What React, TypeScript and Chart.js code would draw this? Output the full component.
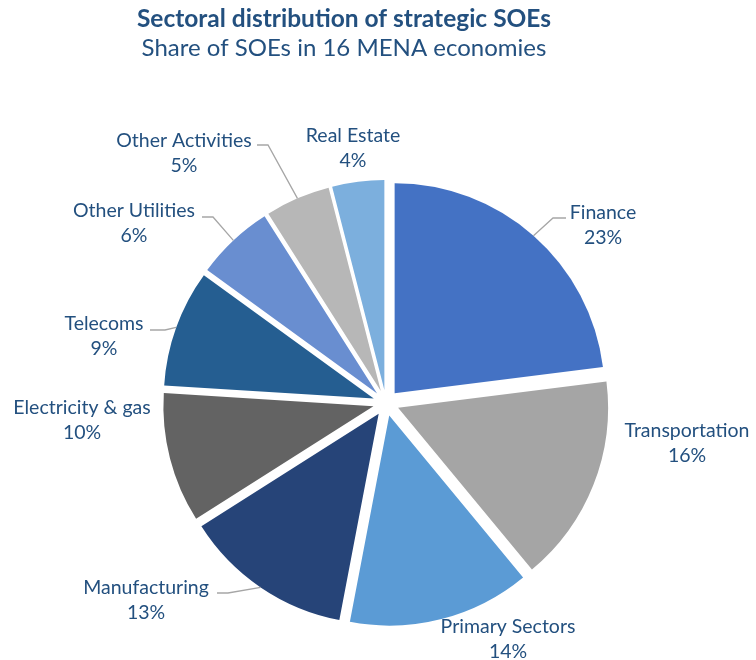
import React, { useEffect, useRef } from "react";
import { Chart, registerables } from "chart.js";

Chart.register(...registerables);

const categories = [
  "Finance",
  "Transportation",
  "Primary Sectors",
  "Manufacturing",
  "Electricity & gas",
  "Telecoms",
  "Other Utilities",
  "Other Activities",
  "Real Estate",
];
const shares = [23, 16, 14, 13, 10, 9, 6, 5, 4];
const sliceColors = [
  "#4472C4",
  "#A5A5A5",
  "#5B9BD5",
  "#264478",
  "#636363",
  "#255E91",
  "#698ED0",
  "#B7B7B7",
  "#7CAFDD",
];
const titleText = "Sectoral distribution of strategic SOEs";
const subtitleText = "Share of SOEs in 16 MENA economies";

const TEXT_COLOR = "#23507F";
const LEADER_COLOR = "#A6A6A6";
const FONT = "Lato, 'Open Sans', sans-serif";
const EXPLODE = 13;

// label text centres relative to the pie centre
const labelOffsets: [number, number][] = [
  [217, -178],
  [301, 40],
  [122, 236],
  [-240, 197],
  [-304, 17],
  [-282, -67],
  [-252, -180],
  [-202, -250],
  [-33, -255],
];
// leader lines: label-side end and elbow, relative to the pie centre
const leaders: ([number, number, number, number] | null)[] = [
  [180, -185, 167, -185],
  null,
  null,
  [-169, 190, -158, 190],
  null,
  [-236, -73, -221, -73],
  [-184, -186, -173, -186],
  [-129, -258, -118, -258],
  null,
];

const explodePlugin = {
  id: "explode",
  afterDatasetUpdate(chart: any, args: any) {
    const ca = chart.chartArea;
    const cx = (ca.left + ca.right) / 2;
    const cy = (ca.top + ca.bottom) / 2;
    args.meta.data.forEach((arc: any) => {
      const mid = (arc.startAngle + arc.endAngle) / 2;
      arc.x = cx + Math.cos(mid) * EXPLODE;
      arc.y = cy + Math.sin(mid) * EXPLODE;
    });
  },
};

const labelPlugin = {
  id: "pieLabels",
  afterDraw(chart: any) {
    const ctx = chart.ctx as CanvasRenderingContext2D;
    const ca = chart.chartArea;
    const cx = (ca.left + ca.right) / 2;
    const cy = (ca.top + ca.bottom) / 2;
    const meta = chart.getDatasetMeta(0);
    ctx.save();

    // titles
    ctx.fillStyle = TEXT_COLOR;
    ctx.textAlign = "center";
    ctx.textBaseline = "middle";
    ctx.font = `bold 24.5px ${FONT}`;
    ctx.fillText(titleText, 344, 19);
    ctx.font = `24px ${FONT}`;
    ctx.fillText(subtitleText, 344, 48);

    // leaders
    ctx.strokeStyle = LEADER_COLOR;
    ctx.lineWidth = 1.3;
    meta.data.forEach((arc: any, i: number) => {
      const l = leaders[i];
      if (!l) return;
      const mid = (arc.startAngle + arc.endAngle) / 2;
      const r = arc.outerRadius;
      const ex = arc.x + Math.cos(mid) * r;
      const ey = arc.y + Math.sin(mid) * r;
      ctx.beginPath();
      ctx.moveTo(cx + l[0], cy + l[1]);
      ctx.lineTo(cx + l[2], cy + l[3]);
      ctx.lineTo(ex, ey);
      ctx.stroke();
    });

    // labels
    ctx.fillStyle = TEXT_COLOR;
    ctx.font = `19.5px ${FONT}`;
    const total = shares.reduce((a, b) => a + b, 0);
    meta.data.forEach((_arc: any, i: number) => {
      const [dx, dy] = labelOffsets[i];
      const pct = Math.round((shares[i] / total) * 100) + "%";
      ctx.fillText(categories[i], cx + dx, cy + dy - 12.5);
      ctx.fillText(pct, cx + dx, cy + dy + 12.5);
    });
    ctx.restore();
  },
};

export default function App() {
  const ref = useRef<HTMLCanvasElement | null>(null);
  useEffect(() => {
    if (!ref.current) return;
    const chart = new Chart(ref.current, {
      type: "pie",
      data: {
        labels: categories,
        datasets: [
          {
            data: shares,
            backgroundColor: sliceColors,
            borderWidth: 0,
            hoverOffset: 0,
          },
        ],
      },
      options: {
        responsive: false,
        animation: false,
        events: [],
        radius: 210,
        layout: { padding: { left: 30, right: 14, top: 150, bottom: 4 } },
        plugins: {
          legend: { display: false },
          tooltip: { enabled: false },
          title: { display: false },
        },
      } as any,
      plugins: [explodePlugin, labelPlugin],
    });
    return () => chart.destroy();
  }, []);
  return (
    <div style={{ position: "absolute", left: 0, top: 0, width: 756, height: 660, background: "#fff" }}>
      <canvas ref={ref} width={756} height={660} style={{ display: "block" }} />
    </div>
  );
}
